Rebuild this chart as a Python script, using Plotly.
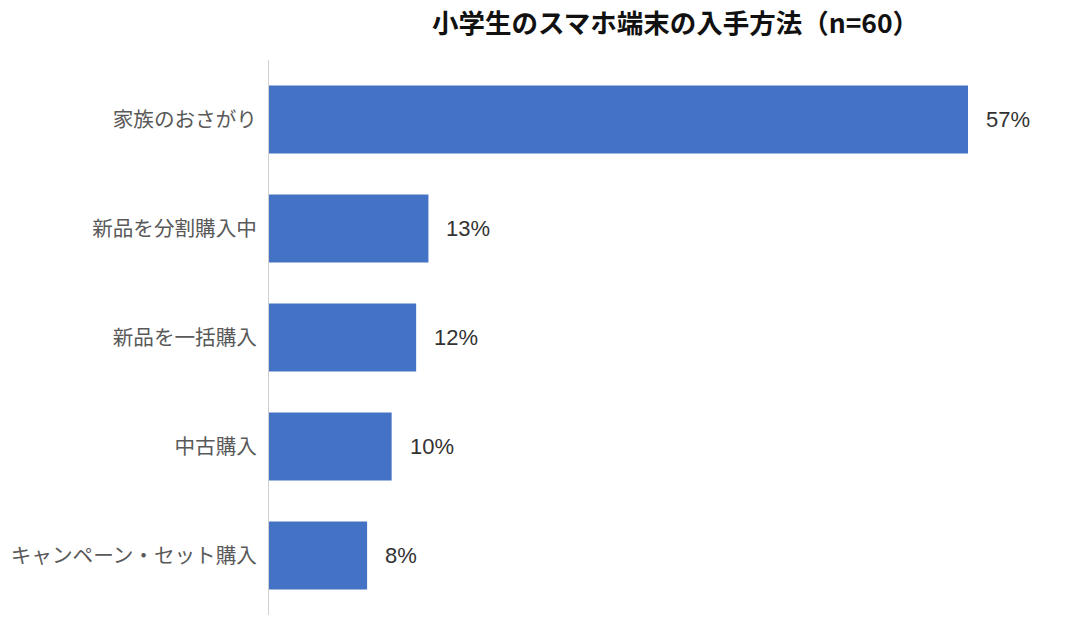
import plotly.graph_objects as go

categories = ["家族のおさがり", "新品を分割購入中", "新品を一括購入", "中古購入", "キャンペーン・セット購入"]
values = [57, 13, 12, 10, 8]
value_labels = ["57%", "13%", "12%", "10%", "8%"]
title_text = "小学生のスマホ端末の入手方法（n=60）"

FONT = "Noto Sans CJK JP"

fig = go.Figure()
fig.add_trace(go.Bar(
    x=values, y=categories, orientation="h",
    marker=dict(color="#4472C4", line=dict(width=0)),
    hoverinfo="skip",
))
for c, v, t in zip(categories, values, value_labels):
    fig.add_annotation(x=v, y=c, text=t, showarrow=False, xanchor="left",
                       xshift=16, font=dict(family="Liberation Sans, Arial", size=22, color="#333333"))

fig.update_layout(
    width=1089, height=625,
    margin=dict(l=269, r=29, t=60, b=10),
    paper_bgcolor="white", plot_bgcolor="white",
    bargap=0.376,
    showlegend=False,
    title=dict(text="<b>" + title_text + "</b>", x=0.514, xref="paper", xanchor="center",
               y=0.962, yref="container", yanchor="middle",
               font=dict(family=FONT, size=26.5, color="#111111")),
    xaxis=dict(range=[0, 64.5], visible=False, fixedrange=True),
    yaxis=dict(categoryorder="array", categoryarray=categories,
               range=[4.545, -0.545], showline=True, linecolor="#d0d0d0", linewidth=1,
               showgrid=False, zeroline=False, ticks="", ticklabelstandoff=7,
               tickfont=dict(family=FONT, size=20.6, color="#595959")),
)
fig.write_html("out.html")
